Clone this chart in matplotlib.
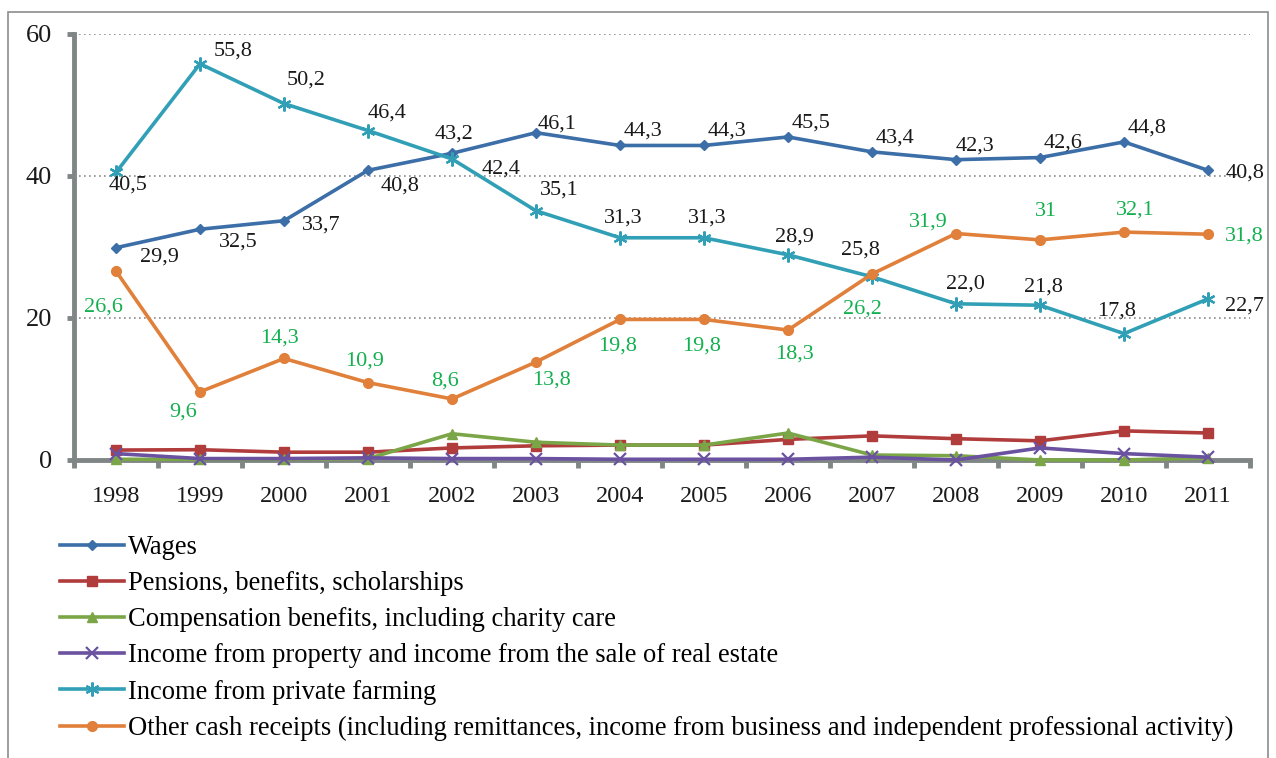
import numpy as np
import matplotlib
matplotlib.use("Agg")
import matplotlib.pyplot as plt
from matplotlib.patches import Rectangle

plt.rcParams['font.family'] = ['Liberation Serif', 'DejaVu Serif']

# Datos
years = [str(y) for y in range(1998, 2012)]
wages = [29.9, 32.5, 33.7, 40.8, 43.2, 46.1, 44.3, 44.3, 45.5, 43.4, 42.3, 42.6, 44.8, 40.8]
pensions = [1.4, 1.45, 1.1, 1.1, 1.7, 2.0, 2.1, 2.1, 2.9, 3.4, 3.0, 2.7, 4.1, 3.8]
compensation = [0.1, 0.1, 0.1, 0.2, 3.7, 2.5, 2.1, 2.1, 3.8, 0.7, 0.6, 0.0, 0.0, 0.3]
property_income = [0.9, 0.2, 0.2, 0.3, 0.2, 0.2, 0.1, 0.1, 0.1, 0.4, 0.0, 1.7, 0.9, 0.4]
farming = [40.5, 55.8, 50.2, 46.4, 42.4, 35.1, 31.3, 31.3, 28.9, 25.8, 22.0, 21.8, 17.8, 22.7]
other = [26.6, 9.6, 14.3, 10.9, 8.6, 13.8, 19.8, 19.8, 18.3, 26.2, 31.9, 31, 32.1, 31.8]

names = [
    "Wages",
    "Pensions, benefits, scholarships",
    "Compensation benefits, including charity care",
    "Income from property and income from the sale of real estate",
    "Income from private farming",
    "Other cash receipts (including remittances, income from business and independent professional activity)",
]

# Desplazamiento de etiquetas (pixeles, x a la derecha, y hacia arriba)
wages_off = [(43, -9), (38, -13), (37, -4), (32, -16), (2, 19), (21, 9), (23, 14), (23, 14),
             (23, 14), (23, 14), (19, 14), (23, 14), (23, 14), (37, -3)]
farming_off = [(12, -13), (33, 13), (22, 24), (19, 18), (49, -10), (23, 21), (3, 20), (3, 20),
               (6, 18), (-12, 27), (9, 20), (3, 18), (-7, 23), (36, -7)]
other_off = [(-13, -36), (-17, -20), (-5, 20), (-3, 22), (-7, 18), (15, -18), (-2, -27), (-2, -27),
             (6, -24), (-10, -35), (-28, 11), (6, 28), (11, 22), (36, -2)]

W, H = 1276, 758
fig = plt.figure(figsize=(W / 100, H / 100), dpi=100)
ax = fig.add_axes([74 / W, 1 - 460 / H, (1250 - 74) / W, (460 - 34) / H])

x = np.arange(len(years))
axis_gray = '#808585'
label_green = '#14B050'

series = [
    (wages, '#3C6EA8', dict(marker='D', markersize=5)),
    (pensions, '#B13C3C', dict(marker='s', markersize=6.5)),
    (compensation, '#7BA647', dict(marker='^', markersize=7)),
    (property_income, '#6A52A0', dict(marker='x', markersize=8, markeredgewidth=1.6)),
    (farming, '#31A0B6', dict(marker=(6, 2, 0), markersize=10, markeredgewidth=1.6)),
    (other, '#E0803A', dict(marker='o', markersize=7)),
]

handles = []
for (vals, col, mk), name in zip(series, names):
    h, = ax.plot(x, vals, color=col, lw=2.6, markerfacecolor=col, markeredgecolor=col,
                 clip_on=False, zorder=4, label=name, **mk)
    handles.append(h)


def fmt(v):
    return str(v).replace('.', ',')


for vals, offs, col in [(wages, wages_off, '#1a1a1a'), (farming, farming_off, '#1a1a1a'),
                        (other, other_off, label_green)]:
    for i, (v, o) in enumerate(zip(vals, offs)):
        ax.annotate(fmt(v), (x[i], v), xytext=o, textcoords='offset pixels',
                    ha='center', va='center', fontsize=16, color=col, zorder=6)

ax.set_xlim(-0.5, len(years) - 0.5)
ax.set_ylim(0, 60)

for s in ['top', 'right']:
    ax.spines[s].set_visible(False)
for s in ['left', 'bottom']:
    ax.spines[s].set_color(axis_gray)
    ax.spines[s].set_linewidth(3.5)

ax.set_yticks([0, 20, 40, 60])
ax.tick_params(axis='y', length=5, width=3.5, color=axis_gray, labelsize=19, pad=11,
               labelcolor='#1a1a1a')
ax.set_xticks(x)
ax.set_xticklabels(years)
ax.set_xticks(np.arange(-0.5, len(years), 1), minor=True)
ax.tick_params(axis='x', which='major', length=0, labelsize=17.5, pad=19, labelcolor='#1a1a1a')
ax.tick_params(axis='x', which='minor', length=6, width=3.5, color=axis_gray)

ax.yaxis.grid(True, linestyle=(0, (1, 2)), color='#8a8a8a', lw=1.2)
ax.set_axisbelow(True)

fig.legend(handles=handles, loc='upper left', bbox_to_anchor=(60 / W, 1 - 535 / H),
           frameon=False, fontsize=19.1, handlelength=2.4, handletextpad=0.15,
           labelspacing=0.42, borderpad=0, borderaxespad=0)

fig.patches.append(Rectangle((8 / W, -0.05), 1260 / W, 1.05 - 12 / H, transform=fig.transFigure,
                             fill=False, ec='#8c8c8c', lw=1.2))

fig.savefig('out.png', dpi=100)
